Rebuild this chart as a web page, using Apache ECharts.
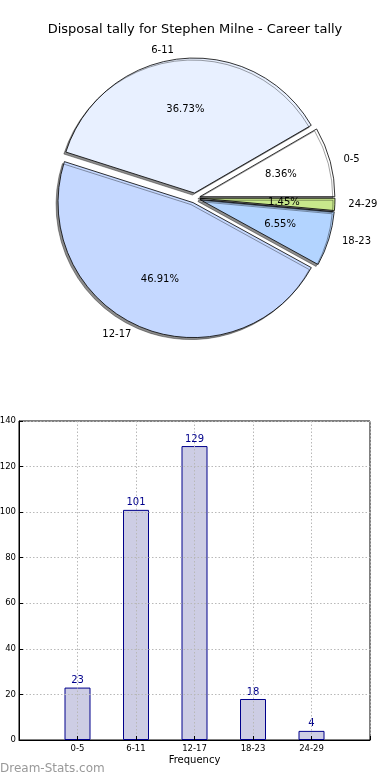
<!DOCTYPE html>
<html>
<head>
<meta charset="utf-8">
<script src="https://cdn.jsdelivr.net/npm/echarts@6/dist/echarts.min.js"></script>
<style>html,body{margin:0;padding:0;background:#fff}#c{width:390px;height:780px}</style>
</head>
<body>
<div id="c"></div>
<script>
const titleText = 'Disposal tally for Stephen Milne - Career tally';
const categories = ['0-5', '6-11', '12-17', '18-23', '24-29'];
const counts = [23, 101, 129, 18, 4];
const pieColors = ['#ffffff', '#e8f0ff', '#c5d8ff', '#b3d4ff', '#c8e88c'];
const yMin = 0, yMax = 140, yStep = 20;
const xAxisName = 'Frequency';
const watermark = 'Dream-Stats.com';

const total = counts.reduce((a, b) => a + b, 0);
const FONT = 'DejaVu Sans';
const R = 135;
const OFF = 5;

const pieData = categories.map((c, i) => ({
  name: c, value: counts[i], selected: true,
  itemStyle: { color: pieColors[i] }
}));
const pctData = categories.map((c, i) => ({
  name: c, value: counts[i], selected: true
}));

const paddedCats = [''].concat(categories, ['']);
const barData = ['-'].concat(counts, ['-']);

const chart = echarts.init(document.getElementById('c'), null, { renderer: 'canvas' });
chart.setOption({
  animation: false,
  textStyle: { fontFamily: FONT },
  title: [
    { text: titleText, left: 'center', top: 18,
      textStyle: { fontFamily: FONT, fontSize: 13, fontWeight: 'normal', color: '#000' } },
    { text: watermark, left: -5, top: 758,
      textStyle: { fontFamily: FONT, fontSize: 12, fontWeight: 'normal', color: '#999' } }
  ],
  grid: { left: 19, right: 20, top: 421, bottom: 40, containLabel: false, outerBoundsMode: 'none',
    show: true, borderColor: '#000', borderWidth: 1, backgroundColor: 'transparent' },
  xAxis: {
    type: 'category', data: paddedCats, boundaryGap: false, z: 5,
    axisLine: { lineStyle: { color: '#000', width: 1 } },
    axisTick: { show: true, inside: true, length: 4, alignWithLabel: true, lineStyle: { color: '#000' } },
    axisLabel: { interval: 0, fontSize: 8.5, color: '#000', margin: 4, fontFamily: FONT },
    splitLine: { show: true, lineStyle: { color: '#b8b8b8', type: [1.5, 2], width: 1 } },
    name: xAxisName, nameLocation: 'middle', nameGap: 15,
    nameTextStyle: { fontSize: 10, color: '#000', fontFamily: FONT }
  },
  yAxis: {
    type: 'value', min: yMin, max: yMax, interval: yStep, z: 5,
    axisLine: { show: true, lineStyle: { color: '#000', width: 1 } },
    axisTick: { show: true, inside: true, length: 4, lineStyle: { color: '#000' } },
    axisLabel: { fontSize: 8.5, color: '#000', margin: 3, fontFamily: FONT },
    splitLine: { show: true, lineStyle: { color: '#b8b8b8', type: [1.5, 2], width: 1 } }
  },
  series: [
    {
      type: 'pie', center: [195, 198], radius: [0, R],
      startAngle: 0, clockwise: false, avoidLabelOverlap: false,
      selectedMode: 'multiple', selectedOffset: OFF,
      itemStyle: { borderColor: '#000', borderWidth: 0.8,
        shadowColor: 'rgba(0,0,0,0.45)', shadowBlur: 0.5, shadowOffsetX: -2, shadowOffsetY: 2 },
      select: { itemStyle: { borderColor: '#000', borderWidth: 0.8 } },
      emphasis: { disabled: true },
      label: { show: true, position: 'outside', fontSize: 10, color: '#000', fontFamily: FONT, formatter: '{b}' },
      labelLine: { show: false, length: R * 0.1 - 5, length2: 0 },
      data: pieData
    },
    {
      type: 'pie', center: [195, 198], radius: [0, R * 1.2],
      startAngle: 0, clockwise: false, avoidLabelOverlap: false, silent: true,
      selectedMode: 'multiple', selectedOffset: OFF, z: 3,
      itemStyle: { color: 'rgba(0,0,0,0)', borderWidth: 0 },
      select: { itemStyle: { color: 'rgba(0,0,0,0)', borderWidth: 0 } },
      emphasis: { disabled: true },
      label: { show: true, position: 'inner', fontSize: 10, color: '#000', fontFamily: FONT,
        formatter: p => (p.value / total * 100).toFixed(2) + '%' },
      labelLine: { show: false },
      data: pctData
    },
    {
      type: 'bar', data: barData, barWidth: 26,
      itemStyle: { color: '#cdcde4', borderColor: '#00008b', borderWidth: 1 },
      label: { show: true, position: 'top', distance: 2, fontSize: 10, color: '#00008b', fontFamily: FONT },
      emphasis: { disabled: true }
    }
  ]
});
</script>
</body>
</html>
